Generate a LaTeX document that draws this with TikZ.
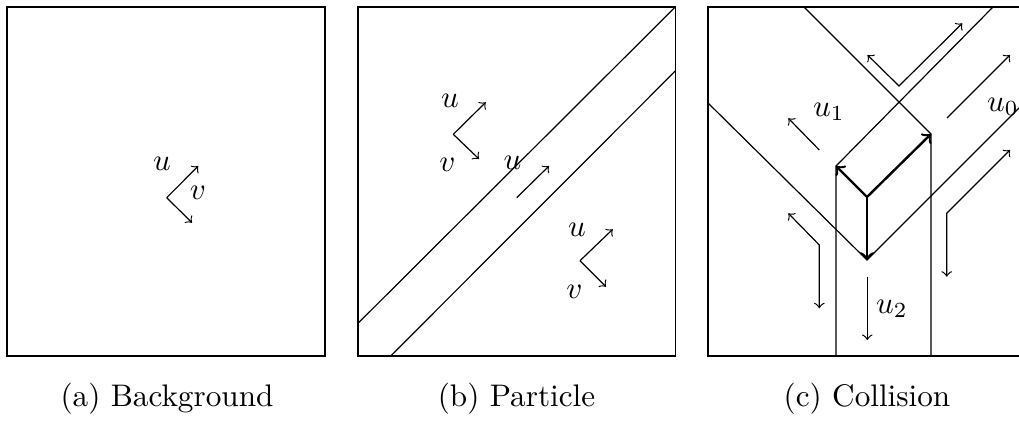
\documentclass[tikz,border=0pt]{standalone}
\begin{document}
\begin{tikzpicture}[x=0.33333pt,y=-0.33333pt,
  frame/.style={line width=0.4pt},
  edge/.style={line width=0.4pt},
  vec/.style={->,line width=0.4pt},
  bivec/.style={<->,line width=0.4pt},
  thickvec/.style={->,line width=0.8pt},
  lab/.style={inner sep=0pt,scale=1.03},
  captext/.style={inner sep=0pt,scale=1.04}]
\useasboundingbox (0,0) rectangle (1019,423);
\clip (0,0) rectangle (1019,423);
% ---------- panel (a)
\draw[frame] (7,7) rectangle (325,356);
\coordinate (ao) at (166.7,197.7);
\coordinate (au) at (198.3,166);
\coordinate (av) at (192,222.7);
\draw[vec] (ao) -- (au);
\draw[vec] (ao) -- (av);
\node[lab] (aul) at (162,164) {$u$};
\node[lab] (avl) at (198,193) {$v$};
\node[captext] (capa) at (167,399) {(a) Background};
% ---------- panel (b)
\draw[frame] (358,7) rectangle (675.3,356);
\coordinate (b1s) at (358,323.3);
\coordinate (b1e) at (675.3,7);
\coordinate (b2s) at (390.7,356);
\coordinate (b2e) at (675.3,71);
\draw[edge] (b1s) -- (b1e);
\draw[edge] (b2s) -- (b2e);
\coordinate (bo1) at (453.3,134.3);
\coordinate (bu1) at (485.7,102.3);
\coordinate (bv1) at (479,159);
\draw[vec] (bo1) -- (bu1);
\draw[vec] (bo1) -- (bv1);
\node[lab] (bul1) at (450,100.5) {$u$};
\node[lab] (bvl1) at (447.5,165) {$v$};
\coordinate (bo2) at (516.7,197.7);
\coordinate (bu2) at (549,166);
\draw[vec] (bo2) -- (bu2);
\node[lab] (bul2) at (512.5,163) {$u$};
\coordinate (bo3) at (580,260.7);
\coordinate (bu3) at (612.7,229.3);
\coordinate (bv3) at (606,286.7);
\draw[vec] (bo3) -- (bu3);
\draw[vec] (bo3) -- (bv3);
\node[lab] (bul3) at (577,229.5) {$u$};
\node[lab] (bvl3) at (574.5,292) {$v$};
\node[captext] (capb) at (516.5,399) {(b) Particle};
% ---------- panel (c)
\draw[frame] (1030,7) -- (708,7) -- (708,356) -- (1030,356);
\coordinate (A) at (836,166);
\coordinate (B) at (931,134);
\coordinate (C) at (867,260);
\coordinate (D) at (867,197);
\coordinate (ct1) at (804,7);
\coordinate (cb1) at (931,356);
\coordinate (ct2) at (993,7);
\coordinate (cb2) at (836,356);
\coordinate (cl3) at (708,103);
\coordinate (cr3) at (1030,97);
\draw[edge] (ct1) -- (B) -- (cb1);
\draw[edge] (ct2) -- (A) -- (cb2);
\draw[edge] (cl3) -- (C) -- (cr3);
\draw[thickvec] (D) -- (A);
\draw[thickvec] (D) -- (B);
\draw[thickvec] (D) -- (C);
% thin arrows
\coordinate (v1a) at (867.5,55);
\coordinate (v1o) at (899,86);
\coordinate (v1b) at (962.3,23.3);
\draw[bivec] (v1a) -- (v1o) -- (v1b);
\coordinate (u0s) at (947,118);
\coordinate (u0e) at (1010,55);
\draw[vec] (u0s) -- (u0e);
\node[lab] (u0l) at (1003,107) {$u_0$};
\coordinate (u1s) at (819.3,150);
\coordinate (u1e) at (788.3,118.3);
\draw[vec] (u1s) -- (u1e);
\node[lab] (u1l) at (829,112) {$u_1$};
\coordinate (l1a) at (788.3,213.3);
\coordinate (l1o) at (819.3,245);
\coordinate (l1b) at (819.3,308.3);
\draw[bivec] (l1a) -- (l1o) -- (l1b);
\coordinate (r1a) at (1010,150);
\coordinate (r1o) at (946.7,213.3);
\coordinate (r1b) at (946.7,276.7);
\draw[bivec] (r1a) -- (r1o) -- (r1b);
\coordinate (u2s) at (867.3,276.7);
\coordinate (u2e) at (867.3,340);
\draw[vec] (u2s) -- (u2e);
\node[lab] (u2l) at (892,309) {$u_2$};
\node[captext] (capc) at (867,399) {(c) Collision};
\end{tikzpicture}
\end{document}
